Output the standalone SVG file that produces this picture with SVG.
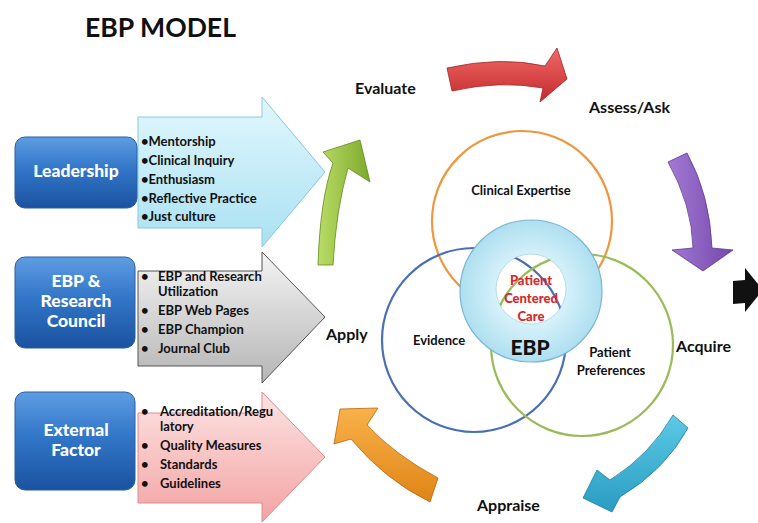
<svg xmlns="http://www.w3.org/2000/svg" width="758" height="523" viewBox="0 0 758 523">
<style>
text{font-family:Lato,"Open Sans","Liberation Sans",sans-serif;font-weight:700;fill:#111}
.box{stroke:#2b5f9e;stroke-width:1}
.boxt{fill:#fff;font-size:17.5px;font-weight:900;text-anchor:middle}
.li{font-size:13px}
.lbl{font-size:16px}
.venn{font-size:13px;text-anchor:middle}
.pcc{font-size:13px;font-weight:900;fill:#d42a2e;text-anchor:middle}
.circ{fill:none;stroke-width:2.2}
</style>
<defs>
<linearGradient id="gBox" x1="0" y1="0" x2="0" y2="1">
<stop offset="0" stop-color="#5e9de2"/><stop offset="0.45" stop-color="#3276c8"/><stop offset="1" stop-color="#1a52a0"/>
</linearGradient>
<linearGradient id="gLB" x1="0" y1="0" x2="0" y2="1"><stop offset="0" stop-color="#e2f7fd"/><stop offset="1" stop-color="#a9e1f3"/></linearGradient>
<linearGradient id="gGr" x1="0" y1="0" x2="0" y2="1"><stop offset="0" stop-color="#f4f4f4"/><stop offset="1" stop-color="#b5b5b5"/></linearGradient>
<linearGradient id="gPk" x1="0" y1="0" x2="0" y2="1"><stop offset="0" stop-color="#fde4e4"/><stop offset="1" stop-color="#f3a3a3"/></linearGradient>
<linearGradient id="gRed" x1="0" y1="0" x2="0" y2="1"><stop offset="0" stop-color="#ef6a68"/><stop offset="1" stop-color="#c42a2c"/></linearGradient>
<linearGradient id="gPur" x1="0" y1="0" x2="1" y2="0"><stop offset="0" stop-color="#a27ad4"/><stop offset="1" stop-color="#7547ab"/></linearGradient>
<linearGradient id="gCy" x1="0" y1="0" x2="0" y2="1"><stop offset="0" stop-color="#5cc9e6"/><stop offset="1" stop-color="#2a9cc2"/></linearGradient>
<linearGradient id="gOr" x1="0" y1="0" x2="0" y2="1"><stop offset="0" stop-color="#f9b24a"/><stop offset="1" stop-color="#e08416"/></linearGradient>
<linearGradient id="gGn" x1="0" y1="0" x2="1" y2="0"><stop offset="0" stop-color="#b9dc66"/><stop offset="1" stop-color="#7eaa2c"/></linearGradient>
<radialGradient id="gRing" cx="0.5" cy="0.5" r="0.5"><stop offset="0.5" stop-color="#d5f1fa"/><stop offset="1" stop-color="#aedff0"/></radialGradient>
<clipPath id="cWhite"><circle cx="531" cy="289" r="35"/></clipPath>
</defs>

<text x="85" y="37" style="font-size:27px" textLength="151" lengthAdjust="spacingAndGlyphs">EBP MODEL</text>

<g id="connectors">
<path id="arrow-leadership" d="M138,117 L262,117 L262,97 L325,172 L262,247 L262,228 L138,228 Z" fill="url(#gLB)" stroke="#86c9e2"/>
<path id="arrow-council" d="M138,271 L262,271 L262,252 L325,317 L262,383 L262,366 L138,366 Z" fill="url(#gGr)" stroke="#555"/>
<path id="arrow-external" d="M138,413 L262,413 L262,392 L325,457 L262,522 L262,503 L138,503 Z" fill="url(#gPk)" stroke="#e08a8a"/>
<path id="arrow-evaluate" d="M447,68 Q500,56 545,66 L557,48 L567,79 L540,102 L543,88 Q500,80 452,91 Z" fill="url(#gRed)" stroke="#a52325" stroke-width="0.8"/>
<path id="arrow-assess" d="M668,162 L687,153 Q710,195 712,248 L733,250 L703,271 L672,250 L693,248 Q692,205 668,162 Z" fill="url(#gPur)" stroke="#5e3a8c" stroke-width="0.8"/>
<path id="arrow-right" d="M733,281 L745,280 L745,268 L763,290 L745,312 L745,303 L733,304 Z" fill="#111"/>
<path id="arrow-acquire" d="M673,415 L688,428 Q665,470 620,497 L612,512 L583,498 L597,470 L610,480 Q650,455 673,415 Z" fill="url(#gCy)" stroke="#1f7fa0" stroke-width="0.8"/>
<path id="arrow-appraise" d="M438,478 Q395,455 367,425 L378,408 L340,409 L334,444 L351,439 Q385,480 430,502 Z" fill="url(#gOr)" stroke="#b8650c" stroke-width="0.8"/>
<path id="arrow-apply" d="M318,265 Q320,200 333,163 L323,152 L360,140 L370,182 L348,168 Q336,210 333,265 Z" fill="url(#gGn)" stroke="#5f8a1e" stroke-width="0.8"/>
</g>

<g id="node-leadership">
<rect class="box" x="15" y="137" width="122" height="71" rx="10" fill="url(#gBox)"/>
<text class="boxt" x="76" y="177">Leadership</text>
</g>
<g id="list-leadership" class="li">
<text x="141" y="146">•Mentorship</text>
<text x="141" y="165">•Clinical Inquiry</text>
<text x="141" y="184">•Enthusiasm</text>
<text x="141" y="203">•Reflective Practice</text>
<text x="141" y="221">•Just culture</text>
</g>

<g id="node-council">
<rect class="box" x="15" y="257" width="120" height="91" rx="10" fill="url(#gBox)"/>
<text class="boxt" x="76" y="287">EBP &amp;</text>
<text class="boxt" x="76" y="307">Research</text>
<text class="boxt" x="76" y="327">Council</text>
</g>
<g id="list-council" class="li">
<text x="141" y="281">•</text><text x="158" y="281">EBP and Research</text>
<text x="158" y="296">Utilization</text>
<text x="141" y="315">•</text><text x="158" y="315">EBP Web Pages</text>
<text x="141" y="334">•</text><text x="158" y="334">EBP Champion</text>
<text x="141" y="353">•</text><text x="158" y="353">Journal Club</text>
</g>

<g id="node-external">
<rect class="box" x="15" y="392" width="120" height="98" rx="10" fill="url(#gBox)"/>
<text class="boxt" x="76" y="436">External</text>
<text class="boxt" x="76" y="456">Factor</text>
</g>
<g id="list-external" class="li">
<text x="141" y="416">•</text><text x="160" y="416">Accreditation/Regu</text>
<text x="160" y="431">latory</text>
<text x="141" y="450">•</text><text x="160" y="450">Quality Measures</text>
<text x="141" y="469">•</text><text x="160" y="469">Standards</text>
<text x="141" y="488">•</text><text x="160" y="488">Guidelines</text>
</g>

<g id="venn">
<circle class="circ" cx="522" cy="221" r="90" stroke="#f0963c"/>
<circle class="circ" cx="474" cy="340" r="92" stroke="#4a70b4"/>
<circle class="circ" cx="582" cy="345" r="91" stroke="#9bbb59"/>
<circle cx="531" cy="291" r="71" fill="url(#gRing)" stroke="#78b6d2" stroke-width="1.2"/>
<circle cx="531" cy="289" r="35" fill="#fff" stroke="#a8d4e6" stroke-width="0.8"/>
<g clip-path="url(#cWhite)">
<circle class="circ" cx="474" cy="340" r="92" stroke="#4a70b4"/>
<circle class="circ" cx="582" cy="345" r="91" stroke="#9bbb59"/>
</g>
<text class="venn" x="521" y="195">Clinical Expertise</text>
<text class="venn" x="439" y="345">Evidence</text>
<text class="venn" x="610" y="357">Patient</text>
<text class="venn" x="611" y="375">Preferences</text>
<text class="pcc" x="531" y="285">Patient</text>
<text class="pcc" x="531" y="303">Centered</text>
<text class="pcc" x="531" y="321">Care</text>
<text x="530" y="355" style="font-size:21px;font-weight:900" text-anchor="middle">EBP</text>
</g>

<g id="cycle-labels" class="lbl">
<text x="355" y="94">Evaluate</text>
<text x="589" y="113">Assess/Ask</text>
<text x="676" y="352">Acquire</text>
<text x="477" y="511">Appraise</text>
<text x="326" y="340">Apply</text>
</g>
</svg>
